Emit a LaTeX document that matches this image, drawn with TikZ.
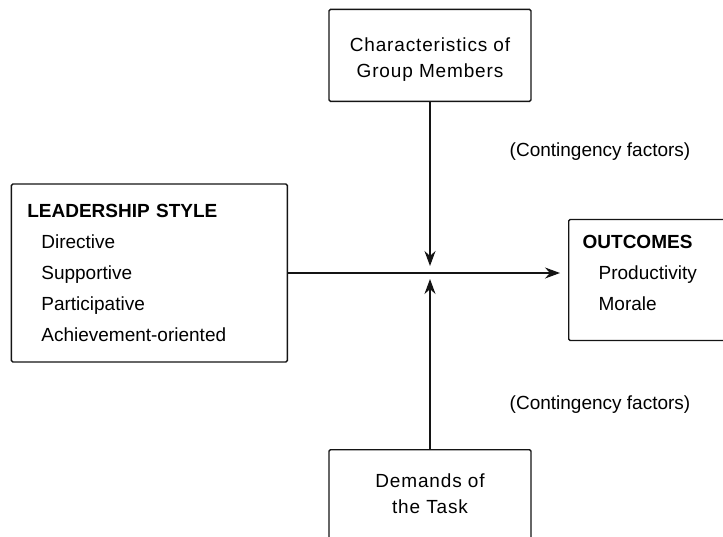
\documentclass[tikz,border=0pt]{standalone}
\usepackage{fontspec}
\setmainfont{Liberation Sans}
\newfontfamily\widefont[LetterSpace=4.5]{Liberation Sans}
\usepackage{tikz}
\usetikzlibrary{arrows.meta,positioning}
\definecolor{boxline}{RGB}{20,20,20}

\begin{document}
\begin{tikzpicture}[
  x=1pt, y=-1pt,
  every node/.style={font=\fontsize{19}{31}\selectfont},
  box/.style={draw=boxline, line width=1.3pt, rounded corners=1.5pt},
  listbox/.style={box, align=left, inner ysep=0pt},
  factor/.style={box, align=center, font=\widefont\fontsize{19}{26}\selectfont,
                 minimum width=202pt, minimum height=92pt},
  arr/.style={-{Stealth[length=15pt, width=11pt]}, draw=boxline, line width=1.1pt},
  note/.style={inner sep=0pt}
]
\path[use as bounding box, clip] (0,0) rectangle (723,536);
\coordinate (hub) at (430,273);

\node[listbox, left=142pt of hub, inner xsep=16pt, text width=244pt,
      minimum height=178pt] (leader)
  {\textbf{LEADERSHIP STYLE}\\
   \hspace*{14pt}Directive\\
   \hspace*{14pt}Supportive\\
   \hspace*{14pt}Participative\\
   \hspace*{14pt}Achievement-oriented};
\node[factor, above=171pt of hub] (members)
  {\rule{0pt}{22pt}Characteristics of\\Group Members};
\node[factor, below=176pt of hub, minimum height=100pt] (task)
  {Demands of\\the Task\rule[-13pt]{0pt}{13pt}};
\node[listbox, right=138pt of hub, yshift=-7pt, inner xsep=14pt, text width=150pt,
      minimum height=121pt] (outcomes)
  {\textbf{OUTCOMES}\\
   \hspace*{16pt}Productivity\\
   \hspace*{16pt}Morale\\[-16pt]\mbox{}};

\node[note] (cf1) at (600,152) {(Contingency factors)};
\node[note] (cf2) at (600,405) {(Contingency factors)};

\draw[arr, shorten >=7pt] (members) -- (hub);
\draw[arr, shorten >=6pt] (task) -- (hub);
\draw[arr, shorten >=8pt] (leader.east |- hub) -- (hub -| outcomes.west);
\end{tikzpicture}
\end{document}
